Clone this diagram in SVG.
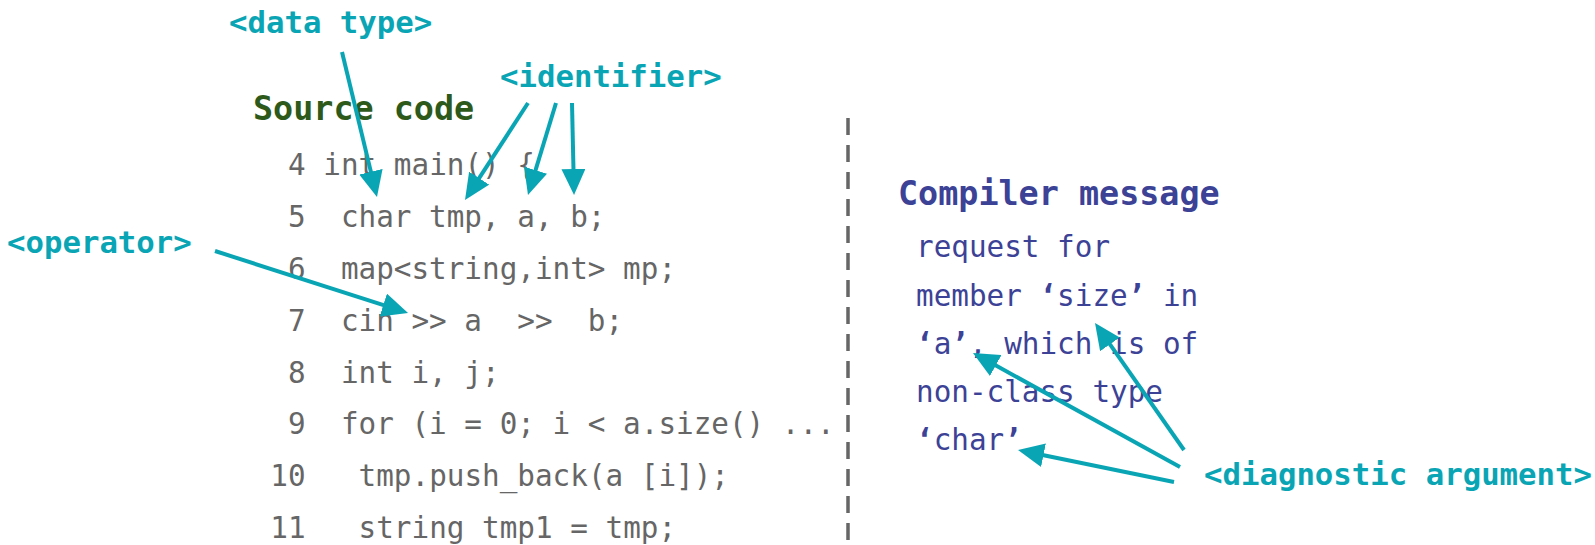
<svg xmlns="http://www.w3.org/2000/svg" width="1595" height="545" viewBox="0 0 1595 545">
<style>
.lbl{font-family:"DejaVu Sans Mono","Liberation Mono",monospace;font-weight:bold;font-size:30.7px;fill:#0aa5b5}
.hd{font-family:"DejaVu Sans Mono","Liberation Mono",monospace;font-weight:bold;font-size:33.4px}
.code{font-family:"DejaVu Sans Mono","Liberation Mono",monospace;font-size:29.3px;fill:#666666}
.msg{font-family:"DejaVu Sans Mono","Liberation Mono",monospace;font-size:29.3px;fill:#3c4296}
.arr{stroke:#0aa5b5;stroke-width:4;fill:none;marker-end:url(#ah)}
.num{text-anchor:end}
</style>
<defs>
<marker id="ah" viewBox="0 0 26 24" refX="6" refY="12" markerWidth="26" markerHeight="24" markerUnits="userSpaceOnUse" orient="auto">
<path d="M0,0 L26,12 L0,24 z" fill="#0aa5b5"/>
</marker>
</defs>
<rect width="1595" height="545" fill="#ffffff"/>
<g id="source-title"><text class="hd" x="253" y="120" fill="#2d5a1b">Source code</text></g>
<g id="source-code" class="code">
<text class="code num" x="305.6" y="175">4</text><text class="code" x="323.3" y="175">int main() {</text>
<text class="code num" x="305.6" y="227">5</text><text class="code" x="340.9" y="227">char tmp, a, b;</text>
<text class="code num" x="305.6" y="279">6</text><text class="code" x="340.9" y="279">map&lt;string,int&gt; mp;</text>
<text class="code num" x="305.6" y="331">7</text><text class="code" x="340.9" y="331" xml:space="preserve">cin &gt;&gt; a  &gt;&gt;  b;</text>
<text class="code num" x="305.6" y="383">8</text><text class="code" x="340.9" y="383">int i, j;</text>
<text class="code num" x="305.6" y="434">9</text><text class="code" x="340.9" y="434">for (i = 0; i &lt; a.size() ...</text>
<text class="code num" x="305.6" y="486">10</text><text class="code" x="358.6" y="486">tmp.push_back(a [i]);</text>
<text class="code num" x="305.6" y="538">11</text><text class="code" x="358.6" y="538">string tmp1 = tmp;</text>
</g>
<g id="divider"><line x1="848" y1="118" x2="848" y2="545" stroke="#666666" stroke-width="3.5" stroke-dasharray="17 10"/></g>
<g id="compiler-title"><text class="hd" x="898" y="205" fill="#3c4296">Compiler message</text></g>
<g id="compiler-message">
<text class="msg" x="916" y="257">request for</text>
<text class="msg" x="916" y="306">member <tspan font-weight="bold">‘</tspan>size<tspan font-weight="bold">’</tspan> in</text>
<text class="msg" x="916" y="354"><tspan font-weight="bold">‘</tspan>a<tspan font-weight="bold">’</tspan>, which is of</text>
<text class="msg" x="916" y="402">non-class type</text>
<text class="msg" x="916" y="450"><tspan font-weight="bold">‘</tspan>char<tspan font-weight="bold">’</tspan></text>
</g>
<g id="label-data-type"><text class="lbl" x="229" y="33">&lt;data type&gt;</text></g>
<g id="label-identifier"><text class="lbl" x="500" y="87">&lt;identifier&gt;</text></g>
<g id="label-operator"><text class="lbl" x="7" y="253">&lt;operator&gt;</text></g>
<g id="label-diagnostic-argument"><text class="lbl" x="1204" y="485">&lt;diagnostic argument&gt;</text></g>
<g id="connectors">
<line class="arr" x1="342" y1="52" x2="372.3" y2="177.6"/>
<line class="arr" x1="528" y1="103" x2="475.9" y2="183.2"/>
<line class="arr" x1="556" y1="103" x2="533.8" y2="175.9"/>
<line class="arr" x1="572" y1="103" x2="573.6" y2="175"/>
<line class="arr" x1="215" y1="251" x2="389" y2="306.9"/>
<line class="arr" x1="1184" y1="450" x2="1106.5" y2="339.4"/>
<line class="arr" x1="1180" y1="467" x2="990.5" y2="362.6"/>
<line class="arr" x1="1174" y1="482" x2="1037.6" y2="454"/>
</g>
</svg>
